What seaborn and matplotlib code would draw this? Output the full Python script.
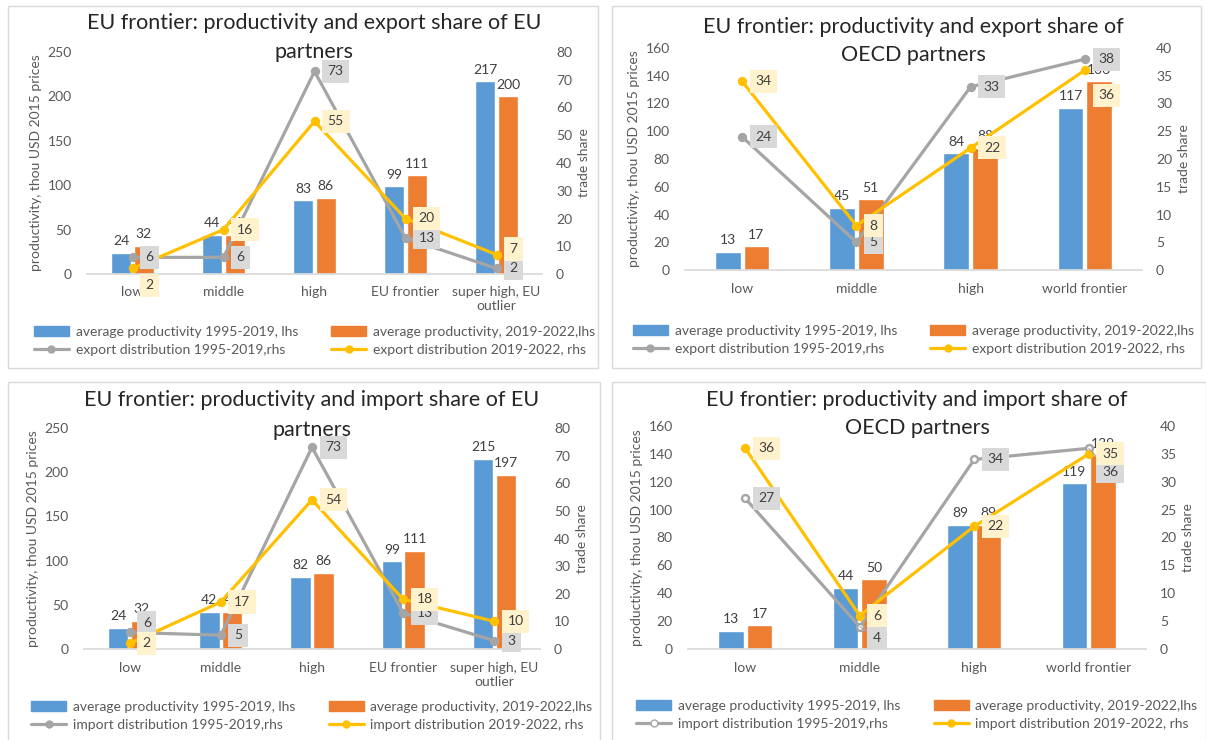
import matplotlib
matplotlib.use("Agg")
import matplotlib.pyplot as plt
import seaborn as sns
import pandas as pd
from matplotlib.lines import Line2D
from matplotlib.patches import Patch, Rectangle

# ---------------- data ----------------
cats_eu = ["low", "middle", "high", "EU frontier", "super high, EU\noutlier"]
cats_oecd = ["low", "middle", "high", "world frontier"]

exp_eu_prod_9519 = [24, 44, 83, 99, 217]
exp_eu_prod_1922 = [32, 44, 86, 111, 200]
exp_eu_share_9519 = [6, 6, 73, 13, 2]
exp_eu_share_1922 = [2, 16, 55, 20, 7]

exp_oecd_prod_9519 = [13, 45, 84, 117]
exp_oecd_prod_1922 = [17, 51, 88, 136]
exp_oecd_share_9519 = [24, 5, 33, 38]
exp_oecd_share_1922 = [34, 8, 22, 36]

imp_eu_prod_9519 = [24, 42, 82, 99, 215]
imp_eu_prod_1922 = [32, 42, 86, 111, 197]
imp_eu_share_9519 = [6, 5, 73, 13, 3]
imp_eu_share_1922 = [2, 17, 54, 18, 10]

imp_oecd_prod_9519 = [13, 44, 89, 119]
imp_oecd_prod_1922 = [17, 50, 89, 139]
imp_oecd_share_9519 = [27, 4, 34, 36]
imp_oecd_share_1922 = [36, 6, 22, 35]

bar_label_a = "average productivity 1995-2019, lhs"
bar_label_b = "average productivity, 2019-2022,lhs"

# ---------------- style ----------------
BLUE = "#5B9BD5"
ORANGE = "#ED7D31"
GRAY = "#A5A5A5"
YELLOW = "#FFC000"
TXT = "#595959"
W, H = 1206, 740

sns.set_theme(style="white")
plt.rcParams["font.family"] = ["Lato", "DejaVu Sans"]

fig = plt.figure(figsize=(W / 100, H / 100), dpi=100)


def px_rect(x0, y0, x1, y1):
    return [x0 / W, 1 - y1 / H, (x1 - x0) / W, (y1 - y0) / H]


def draw_panel(rect, titles, title_y, cats, prod_a, prod_b, share_a, share_b,
               kind, ymax_l, step_l, ymax_r, step_r, hollow, offs_a, offs_b,
               leg_y):
    n = len(cats)
    ax = fig.add_axes(px_rect(*rect))
    df = pd.DataFrame({"cat": cats * 2, "val": prod_a + prod_b,
                       "series": [bar_label_a] * n + [bar_label_b] * n})
    sns.barplot(data=df, x="cat", y="val", hue="series", order=cats,
                hue_order=[bar_label_a, bar_label_b], palette=[BLUE, ORANGE],
                width=0.5, gap=0.1, saturation=1, ax=ax, legend=False)
    for cont in ax.containers:
        ax.bar_label(cont, fmt="%.0f", padding=4, fontsize=10, color="#404040")
    ax.set_ylim(0, ymax_l)
    ax.set_yticks(range(0, ymax_l + 1, step_l))
    ax.set_xlabel("")
    ax.set_ylabel("productivity, thou USD 2015 prices", fontsize=10, color=TXT)
    ax.tick_params(axis="both", length=0, labelsize=10, labelcolor=TXT)
    ax.tick_params(axis="x", pad=9)
    ax.tick_params(axis="y", pad=11)
    for s in ["top", "left", "right"]:
        ax.spines[s].set_visible(False)
    ax.spines["bottom"].set_color("#d9d9d9")

    ax2 = ax.twinx()
    la = pd.DataFrame({"cat": cats, "val": share_a})
    lb = pd.DataFrame({"cat": cats, "val": share_b})
    sns.pointplot(data=la, x="cat", y="val", order=cats, color=GRAY,
                  errorbar=None, markers="o", linestyles="-", ax=ax2,
                  linewidth=2.3, markersize=5,
                  markerfacecolor=("white" if hollow else GRAY),
                  markeredgecolor=GRAY)
    sns.pointplot(data=lb, x="cat", y="val", order=cats, color=YELLOW,
                  errorbar=None, markers="o", linestyles="-", ax=ax2,
                  linewidth=2.3, markersize=5)
    ax2.set_ylim(0, ymax_r)
    ax2.set_yticks(range(0, ymax_r + 1, step_r))
    ax2.set_ylabel("trade share", fontsize=10, color=TXT)
    ax2.tick_params(axis="y", length=0, labelsize=10, labelcolor=TXT, pad=10)
    for s in ["top", "left", "right", "bottom"]:
        ax2.spines[s].set_visible(False)

    for vals, offs, fc in [(share_a, offs_a, "#D9D9D9"), (share_b, offs_b, "#FFF2CC")]:
        for i, v in enumerate(vals):
            dx, dy, lead = offs[i]
            ax2.annotate(f"{v}", xy=(i, v), xytext=(dx, dy),
                         textcoords="offset points", ha="left", va="center",
                         fontsize=10, color="#404040",
                         bbox=dict(boxstyle="square,pad=0.4", fc=fc, ec="none"),
                         arrowprops=(dict(arrowstyle="-", color="#a6a6a6", lw=0.8,
                                          shrinkA=0, shrinkB=0) if lead else None),
                         zorder=10)

    # titles
    for t, ty in zip(titles, title_y):
        yax = (rect[3] - ty) / (rect[3] - rect[1])
        ax.text(0.5, yax, t, transform=ax.transAxes, ha="center", va="center",
                fontsize=15.5, color="#262626")

    h_a = Patch(color=BLUE)
    h_b = Patch(color=ORANGE)
    h_c = Line2D([], [], color=GRAY, lw=2.3, marker="o", markersize=5,
                 markerfacecolor=("white" if hollow else GRAY))
    h_d = Line2D([], [], color=YELLOW, lw=2.3, marker="o", markersize=5)
    lab_c = f"{kind} distribution 1995-2019,rhs"
    lab_d = f"{kind} distribution 2019-2022, rhs"
    # column-major filling: col1 = blue, gray ; col2 = orange, yellow
    handles = [h_a, h_c, h_b, h_d]
    labels = [bar_label_a, lab_c, bar_label_b, lab_d]
    yleg = (rect[3] - leg_y) / (rect[3] - rect[1])
    ax.legend(handles, labels, loc="upper center", bbox_to_anchor=(0.5, yleg),
              ncols=2, frameon=False, fontsize=10, labelcolor=TXT,
              handlelength=2.5, handletextpad=0.5, columnspacing=2.4,
              labelspacing=0.4, borderpad=0, borderaxespad=0)
    return ax


R = (9.5, 0, False)

# panel 1
draw_panel((87, 52, 542, 274),
           ["EU frontier: productivity and export share of EU", "partners"],
           [23, 52], cats_eu, exp_eu_prod_9519, exp_eu_prod_1922,
           exp_eu_share_9519, exp_eu_share_1922, "export", 250, 50, 80, 10, False,
           [R, R, R, R, R],
           [(9.5, -12, False), R, R, R, (9.5, 4, False)], 326)

# panel 2
draw_panel((685, 48, 1142, 270),
           ["EU frontier: productivity and export share of", "OECD partners"],
           [27, 55], cats_oecd, exp_oecd_prod_9519, exp_oecd_prod_1922,
           exp_oecd_share_9519, exp_oecd_share_1922, "export", 160, 20, 40, 5, False,
           [R, R, R, R],
           [R, R, R, (9.5, -18, False)], 325)

# panel 3
draw_panel((84, 428, 540, 649),
           ["EU frontier: productivity and import share of EU", "partners"],
           [400, 430], cats_eu, imp_eu_prod_9519, imp_eu_prod_1922,
           imp_eu_share_9519, imp_eu_share_1922, "import", 250, 50, 80, 10, False,
           [(9.5, 7, False), R, R, R, R],
           [R, R, R, R, R], 701)

# panel 4
draw_panel((688, 426, 1146, 649),
           ["EU frontier: productivity and import share of", "OECD partners"],
           [400, 428], cats_oecd, imp_oecd_prod_9519, imp_oecd_prod_1922,
           imp_oecd_share_9519, imp_oecd_share_1922, "import", 160, 20, 40, 5, True,
           [R, (9.5, -8, True), R, (9.5, -17, True)],
           [R, R, R, R], 700)

# panel frames
for (x0, y0, x1, y1) in [(8, 6, 598, 368), (612, 6, 1201, 368),
                         (8, 382, 600, 742), (612, 382, 1206, 742)]:
    fig.add_artist(Rectangle((x0 / W, 1 - y1 / H), (x1 - x0) / W, (y1 - y0) / H,
                             transform=fig.transFigure, fill=False,
                             ec="#d9d9d9", lw=1))

fig.savefig("out.png", dpi=100, facecolor="white")
